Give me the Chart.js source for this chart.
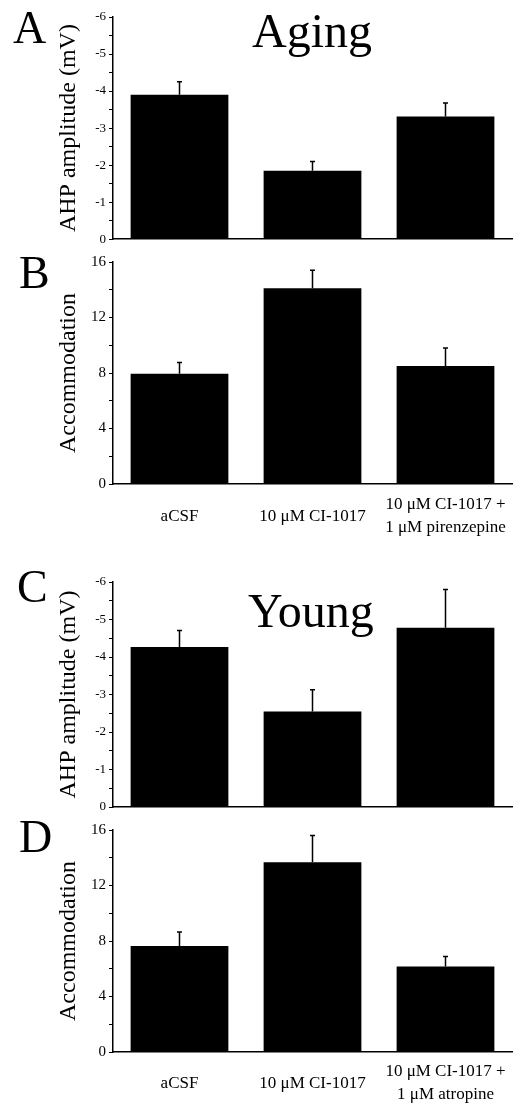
<!DOCTYPE html>
<html>
<head>
<meta charset="utf-8">
<script src="https://cdn.jsdelivr.net/npm/chart.js@4.4.1/dist/chart.umd.min.js"></script>
<style>
  html, body { margin: 0; padding: 0; background: #fff; }
  #fig { position: relative; width: 522px; height: 1105px; overflow: hidden; background: #fff; }
  #fig canvas { position: absolute; left: 0; }
  .lbl { position: absolute; font-family: 'Liberation Serif', 'Times New Roman', serif; line-height: 1; color: #000; white-space: nowrap; }
</style>
</head>
<body>
<div id="fig">
  <canvas id="panelA" width="522" height="250" style="top:0px"></canvas>
  <canvas id="panelB" width="522" height="310" style="top:250px"></canvas>
  <canvas id="panelC" width="522" height="258" style="top:560px"></canvas>
  <canvas id="panelD" width="522" height="287" style="top:818px"></canvas>

  <div class="lbl" style="left:13px;top:5px;font-size:46px">A</div>
  <div class="lbl" style="left:252px;top:7px;font-size:48px">Aging</div>
  <div class="lbl" style="left:19px;top:250px;font-size:46px">B</div>
  <div class="lbl" style="left:17px;top:564px;font-size:46px">C</div>
  <div class="lbl" style="left:248px;top:587px;font-size:48px">Young</div>
  <div class="lbl" style="left:19px;top:814px;font-size:46px">D</div>
</div>
<script>
// categories
const LABELS_AGING = ['aCSF', '10 μM CI-1017', ['10 μM CI-1017 +', '1 μM pirenzepine']];
const LABELS_YOUNG = ['aCSF', '10 μM CI-1017', ['10 μM CI-1017 +', '1 μM atropine']];

// A: aging, AHP amplitude (mV)
const AGING_AHP = [-3.9, -1.85, -3.31];
const AGING_AHP_SEM = [0.35, 0.25, 0.37];
// B: aging, accommodation
const AGING_ACC = [7.95, 14.1, 8.5];
const AGING_ACC_SEM = [0.8, 1.3, 1.3];
// C: young, AHP amplitude (mV)
const YOUNG_AHP = [-4.27, -2.55, -4.78];
const YOUNG_AHP_SEM = [0.44, 0.58, 1.02];
// D: young, accommodation
const YOUNG_ACC = [7.64, 13.68, 6.16];
const YOUNG_ACC_SEM = [1.01, 1.92, 0.72];

// labelled ticks (minor ticks in between stay unlabelled)
const AHP_TICKS = [0, -1, -2, -3, -4, -5, -6];
const ACC_TICKS = [0, 4, 8, 12, 16];

const SERIF = "'Liberation Serif', 'Times New Roman', serif";

// upward-only SEM bars with a small cap
const errorBars = {
  id: 'errorBars',
  afterDatasetsDraw(chart) {
    const { ctx } = chart;
    const y = chart.scales.y;
    chart.data.datasets.forEach((ds, di) => {
      chart.getDatasetMeta(di).data.forEach((bar, i) => {
        const v = ds.data[i];
        const tip = y.getPixelForValue(v + Math.sign(v) * ds.sem[i]);
        ctx.save();
        ctx.strokeStyle = '#000';
        ctx.lineWidth = 1.5;
        ctx.beginPath();
        ctx.moveTo(bar.x, bar.y);
        ctx.lineTo(bar.x, tip);
        ctx.moveTo(bar.x - 2.5, tip);
        ctx.lineTo(bar.x + 2.5, tip);
        ctx.stroke();
        ctx.restore();
      });
    });
  }
};

function makePanel(id, cfg) {
  return new Chart(document.getElementById(id), {
    type: 'bar',
    data: {
      labels: cfg.labels,
      datasets: [{
        data: cfg.values,
        sem: cfg.sem,
        backgroundColor: '#000',
        borderWidth: 0,
        categoryPercentage: 1,
        barPercentage: 0.735,
      }],
    },
    options: {
      responsive: false,
      animation: false,
      events: [],
      layout: { padding: { left: 0, right: 10, top: cfg.top, bottom: 0 } },
      plugins: { legend: { display: false }, tooltip: { enabled: false } },
      scales: {
        x: {
          grid: { display: true, drawOnChartArea: false, drawTicks: true, tickLength: cfg.labelGap, tickColor: 'rgba(0,0,0,0)' },
          border: { display: true, color: '#000', width: 1.5 },
          ticks: {
            display: cfg.showLabels,
            color: '#000',
            font: { family: SERIF, size: 17, lineHeight: 1.3 },
            padding: 0,
            crossAlign: 'center',
            maxRotation: 0,
            autoSkip: false,
          },
          afterFit: s => { s.height = cfg.xHeight; },
        },
        y: {
          min: cfg.min,
          max: cfg.max,
          reverse: cfg.reverse,
          grid: { display: true, drawOnChartArea: false, drawTicks: true, tickLength: 4, color: '#000', lineWidth: 1 },
          border: { display: true, color: '#000', width: 1.5 },
          ticks: {
            stepSize: cfg.step,
            autoSkip: false,
            color: '#000',
            padding: 3,
            font: { family: SERIF, size: cfg.tickSize },
            callback: v => cfg.ticks.includes(v) ? String(v) : '',
          },
          title: {
            display: true,
            text: cfg.title,
            color: '#000',
            font: { family: SERIF, size: 24 },
            padding: { top: 54, bottom: 0 },
          },
          afterFit: s => { s.width = 113; },
        },
      },
    },
    plugins: [errorBars],
  });
}

makePanel('panelA', {
  labels: LABELS_AGING, values: AGING_AHP, sem: AGING_AHP_SEM,
  min: -6, max: 0, reverse: true, step: 0.5, ticks: AHP_TICKS, tickSize: 13,
  title: 'AHP amplitude (mV)', top: 17, xHeight: 10, showLabels: false, labelGap: 0,
});
makePanel('panelB', {
  labels: LABELS_AGING, values: AGING_ACC, sem: AGING_ACC_SEM,
  min: 0, max: 16, reverse: false, step: 2, ticks: ACC_TICKS, tickSize: 15,
  title: 'Accommodation', top: 11, xHeight: 76, showLabels: true, labelGap: 21,
});
makePanel('panelC', {
  labels: LABELS_YOUNG, values: YOUNG_AHP, sem: YOUNG_AHP_SEM,
  min: -6, max: 0, reverse: true, step: 0.5, ticks: AHP_TICKS, tickSize: 13,
  title: 'AHP amplitude (mV)', top: 22, xHeight: 11, showLabels: false, labelGap: 0,
});
makePanel('panelD', {
  labels: LABELS_YOUNG, values: YOUNG_ACC, sem: YOUNG_ACC_SEM,
  min: 0, max: 16, reverse: false, step: 2, ticks: ACC_TICKS, tickSize: 15,
  title: 'Accommodation', top: 10, xHeight: 53, showLabels: true, labelGap: 20,
});
</script>
</body>
</html>
